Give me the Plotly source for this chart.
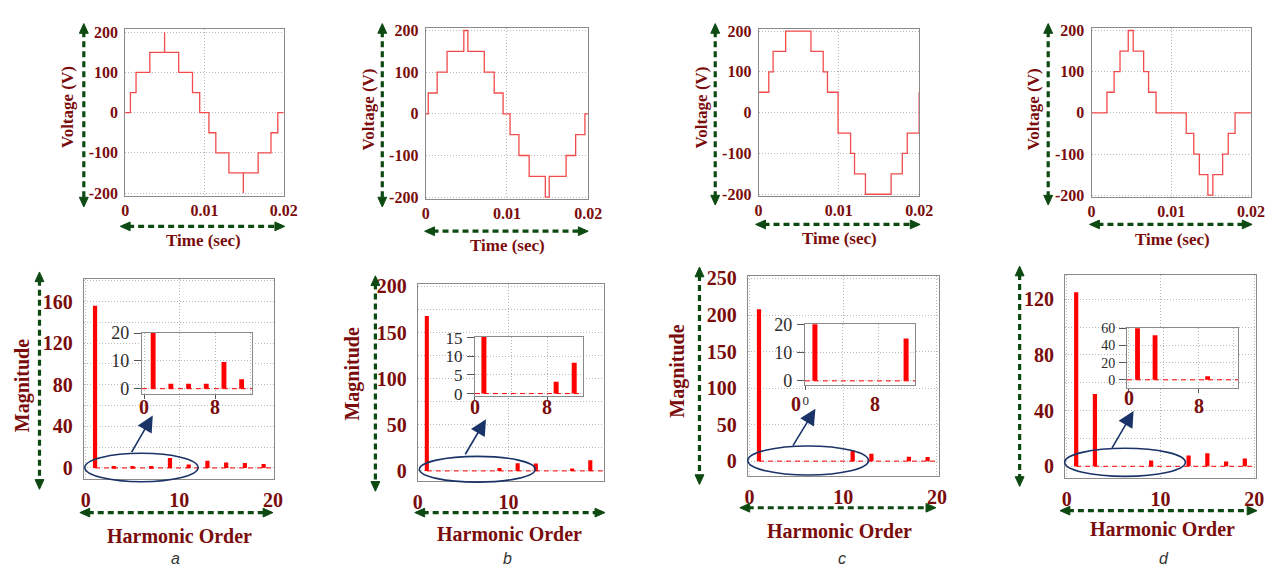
import plotly.graph_objects as go

W, H = 1273, 572

# ---------------- data ----------------
# stepped output voltage waveforms (breakpoint time, level held from that time)
t_a = [0, 0.00066, 0.00137, 0.00311, 0.00497, 0.00497, 0.00675, 0.00849, 0.0094,
       0.01056, 0.01143, 0.01308, 0.0149, 0.0149, 0.01677, 0.01839, 0.01925, 0.02]
v_a = [0, 50, 100, 150, 200, 150, 100, 50, 0, -50, -100, -150, -200, -150, -100, -50, 0, 0]

t_b = [0, 0.00032, 0.00142, 0.00264, 0.0047, 0.0052, 0.00722, 0.00844, 0.00953,
       0.01039, 0.01148, 0.01274, 0.01473, 0.01521, 0.01728, 0.01846, 0.0196, 0.02]
v_b = [0, 50, 100, 150, 200, 150, 100, 50, 0, -50, -100, -150, -200, -150, -100, -50, 0, 0]

t_c = [0, 0.00127, 0.00181, 0.00337, 0.00653, 0.00805, 0.00858, 0.0099, 0.01146,
       0.01195, 0.01331, 0.01651, 0.0179, 0.01852, 0.02]
v_c = [50, 100, 150, 200, 150, 100, 50, -50, -100, -150, -200, -150, -100, -50, 50]

t_d = [0, 0.00193, 0.00283, 0.00357, 0.0046, 0.00522, 0.00653, 0.00715, 0.00809,
       0.01187, 0.01281, 0.01351, 0.01458, 0.0152, 0.01643, 0.01713, 0.01799, 0.02]
v_d = [0, 50, 100, 150, 200, 150, 100, 50, 0, -50, -100, -150, -200, -150, -100, -50, 0, 0]

# harmonic spectra (odd orders)
harm = [1, 3, 5, 7, 9, 11, 13, 15, 17, 19]
mag_a = [156, 1.8, 1.8, 1.8, 9.6, 3.4, 6.8, 5.3, 4.7, 3.8]
mag_b = [168, 0, 0, 0, 3.2, 8.3, 8.0, 0, 2.5, 11.5]
mag_c = [208, 0, 0, 0, 0, 15, 10, 0, 6, 5.5]
mag_d = [125, 52, 0, 0, 4.2, 0, 7.7, 9.3, 3.5, 5.6]

volt_ticks = [-200, -100, 0, 100, 200]
volt_labels = ["-200", "-100", "0", "100", "200"]
time_ticks = [0, 0.01, 0.02]
time_labels = ["0", "0.01", "0.02"]
inset_xlabels = ["0", "8"]
panel_letters = ["a", "b", "c", "d"]

# ---------------- styling ----------------
DARKRED = "#7a0c0c"
GREEN = "#0d4a12"
NAVY = "#1b3468"
LINE_RED = "#f24b4b"
BAR_RED = "#ff0000"
GRID = "#b9b9b9"
GRIDDASH = "1px,2px"
BOX = "#8a8a8a"
SERIF = "Liberation Serif"


def px(x):
    return x / W


def py(y):
    return 1 - y / H


def dom(box):
    l, t, r, b = box
    return [px(l), px(r)], [py(b), py(t)]


fig = go.Figure()
layout_axes = {}
shapes = []
annotations = []


def add_axes(i, box, xr, yr, xcfg, ycfg):
    xd, yd = dom(box)
    xk = "xaxis" if i == 1 else f"xaxis{i}"
    yk = "yaxis" if i == 1 else f"yaxis{i}"
    base = dict(showline=True, mirror=True, linecolor=BOX, linewidth=1,
                showgrid=True, gridcolor=GRID, griddash=GRIDDASH, gridwidth=1,
                zeroline=False, fixedrange=True)
    xa = dict(base, domain=xd, range=xr, anchor=f"y{i if i > 1 else ''}")
    ya = dict(base, domain=yd, range=yr, anchor=f"x{i if i > 1 else ''}")
    xa.update(xcfg)
    ya.update(ycfg)
    layout_axes[xk] = xa
    layout_axes[yk] = ya
    return (f"x{i if i > 1 else ''}", f"y{i if i > 1 else ''}")


# ---- top row: voltage waveforms ----
top_boxes = [(122, 20, 283, 192), (427, 19, 592, 195), (765, 20, 928, 192), (1103, 19, 1265, 193)]
top_yr = [[-208, 207], [-205, 205], [-205, 204], [-205, 205]]
waves = [(t_a, v_a), (t_b, v_b), (t_c, v_c), (t_d, v_d)]

top_tickfont = dict(family=SERIF, size=16, color=DARKRED, weight="bold")
for k in range(4):
    xa, ya = add_axes(
        k + 1, top_boxes[k], [0, 0.02], top_yr[k],
        dict(tickmode="array", tickvals=time_ticks, ticktext=time_labels,
             tickfont=top_tickfont, ticks="", ticklabelstandoff=0),
        dict(tickmode="array", tickvals=volt_ticks, ticktext=volt_labels,
             tickfont=top_tickfont, ticks="", ticklabelstandoff=3),
    )
    t, v = waves[k]
    fig.add_trace(go.Scatter(x=t, y=v, mode="lines", line=dict(color=LINE_RED, width=1.3, shape="hv"),
                             xaxis=xa, yaxis=ya, showlegend=False, hoverinfo="skip"))

# ---- bottom row: harmonic spectra ----
bot_boxes = [(80, 277, 273, 483), (419, 282, 608, 485), (754, 274, 948, 480), (1076, 273, 1270, 482)]
bot_xr = [[-0.2, 20.1], [0, 20.5], [-0.2, 20.2], [-0.2, 20.2]]
bot_yr = [[-10.3, 182], [-10.5, 203], [-20, 253.6], [-8.2, 137.5]]
bot_ydt = [40, 50, 50, 40]
bot_yminor = [20, 25, None, 20]
bot_xticks = [[0, 10, 20], [0, 10], [0, 10, 20], [0, 10, 20]]
mags = [mag_a, mag_b, mag_c, mag_d]

bot_tickfont = dict(family=SERIF, size=20, color=DARKRED, weight="bold")
for k in range(4):
    ycfg = dict(tickmode="linear", tick0=0, dtick=bot_ydt[k], tickfont=bot_tickfont,
                ticks="", ticklabelstandoff=6)
    if bot_yminor[k]:
        ycfg["minor"] = dict(tickmode="linear", tick0=0, dtick=bot_yminor[k], showgrid=True,
                             gridcolor=GRID, griddash=GRIDDASH, ticks="")
    xa, ya = add_axes(
        k + 5, bot_boxes[k], bot_xr[k], bot_yr[k],
        dict(tickmode="array", tickvals=bot_xticks[k], tickfont=bot_tickfont,
             ticks="", ticklabelstandoff=3),
        ycfg,
    )
    fig.add_trace(go.Scatter(x=[harm[0], bot_xr[k][1]], y=[0, 0], mode="lines",
                             line=dict(color=BAR_RED, width=1, dash="5px,4px"),
                             xaxis=xa, yaxis=ya, showlegend=False, hoverinfo="skip"))
    fig.add_trace(go.Bar(x=harm, y=mags[k], width=0.45, marker=dict(color=BAR_RED, line=dict(width=0)),
                         xaxis=xa, yaxis=ya, showlegend=False, hoverinfo="skip"))

# ---- insets: zoom on the low-magnitude harmonics ----
ins_boxes = [(139, 333, 251, 396), (477, 337, 587, 398), (812, 324, 924, 386), (1139, 328, 1252, 390)]
ins_xr = [[-0.27, 12.2], [0, 12], [-0.1, 12], [-0.2, 12.5]]
ins_yr = [[-2, 20], [-0.7, 15.2], [-1.3, 20], [-10, 60]]
ins_ydt = [10, 5, 10, 20]
ins_yfs = [18, 17, 18, 14]
ins_label_y = [[409, 409], [409, 409], None, [400, 408]]

ins_xfont = dict(family=SERIF, size=20, color=DARKRED, weight="bold")
for k in range(4):
    xcfg = dict(tickmode="array", tickvals=[0, 8], showticklabels=False,
                ticks="outside", ticklen=4, tickcolor="#555",
                minor=dict(tickmode="linear", tick0=0, dtick=4, showgrid=True,
                           gridcolor=GRID, griddash=GRIDDASH, ticks=""))
    if k == 2:
        xcfg.update(tickvals=[0], ticktext=["0"], showticklabels=True, ticklabelstandoff=0,
                    tickfont=dict(family=SERIF, size=13, color="#2b2b2b"))
    xa, ya = add_axes(
        k + 9, ins_boxes[k], ins_xr[k], ins_yr[k], xcfg,
        dict(tickmode="linear", tick0=0, dtick=ins_ydt[k],
             tickfont=dict(family=SERIF, size=ins_yfs[k], color="#2b2b2b"),
             ticks="outside", ticklen=7, tickcolor="#555", ticklabelstandoff=1),
    )
    fig.add_trace(go.Scatter(x=[ins_xr[k][0], ins_xr[k][1]], y=[0, 0], mode="lines",
                             line=dict(color=BAR_RED, width=1, dash="5px,4px"),
                             xaxis=xa, yaxis=ya, showlegend=False, hoverinfo="skip"))
    fig.add_trace(go.Bar(x=harm, y=mags[k], width=0.55, marker=dict(color=BAR_RED, line=dict(width=0)),
                         xaxis=xa, yaxis=ya, showlegend=False, hoverinfo="skip"))
    if ins_label_y[k]:
        for txt, yy in zip(inset_xlabels, ins_label_y[k]):
            annotations.append(dict(text=txt, x=float(txt), y=py(yy), xref=xa, yref="paper",
                                    showarrow=False, xanchor="center", yanchor="middle",
                                    font=ins_xfont))

# bold tick labels beside panel c's inset
for txt, x in zip(inset_xlabels, [803, 883]):
    annotations.append(dict(text=txt, x=px(x), y=py(406), xref="paper", yref="paper",
                            showarrow=False, xanchor="center", yanchor="middle",
                            font=ins_xfont))


# ---- double-headed dashed green arrows along the axes ----
def green_arrow(x0, y0, x1, y1, head=10, half=4.5):
    dx, dy = x1 - x0, y1 - y0
    length = (dx * dx + dy * dy) ** 0.5
    ux, uy = dx / length, dy / length
    nx, ny = -uy, ux
    shapes.append(dict(type="line", xref="paper", yref="paper",
                       x0=px(x0 + ux * head * 0.8), y0=py(y0 + uy * head * 0.8),
                       x1=px(x1 - ux * head * 0.8), y1=py(y1 - uy * head * 0.8),
                       line=dict(color=GREEN, width=3.2, dash="6px,4px"), layer="above"))
    for (tx, ty, sx, sy) in [(x0, y0, ux, uy), (x1, y1, -ux, -uy)]:
        bx, by = tx + sx * head, ty + sy * head
        pts = [(tx, ty), (bx + nx * half, by + ny * half), (bx - nx * half, by - ny * half)]
        path = "M {} {} L {} {} L {} {} Z".format(*[c for p in pts for c in (px(p[0]), py(p[1]))])
        shapes.append(dict(type="path", xref="paper", yref="paper", path=path,
                           fillcolor=GREEN, line=dict(color=GREEN, width=1), layer="above"))


# top row arrows
green_arrow(80, 14, 80, 203)
green_arrow(117, 223, 284, 223)
green_arrow(383, 14, 383, 203)
green_arrow(426, 228, 592, 228)
green_arrow(721, 14, 721, 201)
green_arrow(762, 221, 929, 221)
green_arrow(1059, 14, 1059, 201)
green_arrow(1101, 221, 1266, 221)
# bottom row arrows
green_arrow(35, 270, 35, 494)
green_arrow(76, 518, 272, 518)
green_arrow(376, 274, 376, 496)
green_arrow(416, 518, 609, 518)
green_arrow(705, 265, 705, 489)
green_arrow(746, 513, 945, 513)
green_arrow(1030, 264, 1030, 491)
green_arrow(1071, 516, 1271, 516)

# ---- ellipses around the low harmonics and pointers to the insets ----
ellipses = [(138.5, 471.5, 57.5, 14.7), (479.5, 473.3, 58.8, 13.3),
            (815.3, 464.3, 61.3, 15.0), (1137, 466.2, 61.3, 14.5)]
pointers = [((128, 456), (150, 418)), ((466.7, 458.3), (488.3, 421.7)),
            ((799.3, 449.3), (822.7, 411)), ((1123.3, 451.7), (1145.7, 413.3))]
for (cx, cy, rx, ry) in ellipses:
    shapes.append(dict(type="circle", xref="paper", yref="paper",
                       x0=px(cx - rx), x1=px(cx + rx), y0=py(cy + ry), y1=py(cy - ry),
                       line=dict(color=NAVY, width=1.6), layer="above"))
for (tail, tip) in pointers:
    annotations.append(dict(text="", x=px(tip[0]), y=py(tip[1]), xref="paper", yref="paper",
                            ax=tail[0] - tip[0], ay=tail[1] - tip[1], axref="pixel", ayref="pixel",
                            showarrow=True, arrowhead=2, arrowsize=2.0, arrowwidth=1.6,
                            arrowcolor=NAVY))


# ---- axis titles ----
def label(text, x, y, size, angle=0):
    annotations.append(dict(text=text, x=px(x), y=py(y), xref="paper", yref="paper",
                            showarrow=False, textangle=angle, xanchor="center", yanchor="middle",
                            font=dict(family=SERIF, size=size, color=DARKRED, weight="bold")))


for (x, y) in [(63, 100), (369, 102), (707, 100), (1045, 102)]:
    label("Voltage (V)", x, y, 17, -90)
for (x, y) in [(202, 238), (510, 243), (847, 235), (1185, 237)]:
    label("Time (sec)", x, y, 17)
for (x, y) in [(18, 387), (353, 375), (683, 372)]:
    label("Magnitude", x, y, 20, -90)
for (x, y) in [(177, 542), (512, 540), (847, 537), (1175, 535)]:
    label("Harmonic Order", x, y, 20)

# panel letters
for letter, x in zip(panel_letters, [173, 510, 850, 1177]):
    annotations.append(dict(text=letter, x=px(x), y=py(565), xref="paper", yref="paper",
                            showarrow=False, xanchor="center", yanchor="middle",
                            font=dict(family="Liberation Sans", size=16, color="#333333",
                                      style="italic")))

fig.update_layout(
    width=W, height=H, autosize=False,
    margin=dict(l=0, r=0, t=0, b=0),
    paper_bgcolor="white", plot_bgcolor="white",
    barmode="overlay", showlegend=False,
    shapes=shapes, annotations=annotations,
    **layout_axes,
)

fig.write_html("out.html", config={"displayModeBar": False})
